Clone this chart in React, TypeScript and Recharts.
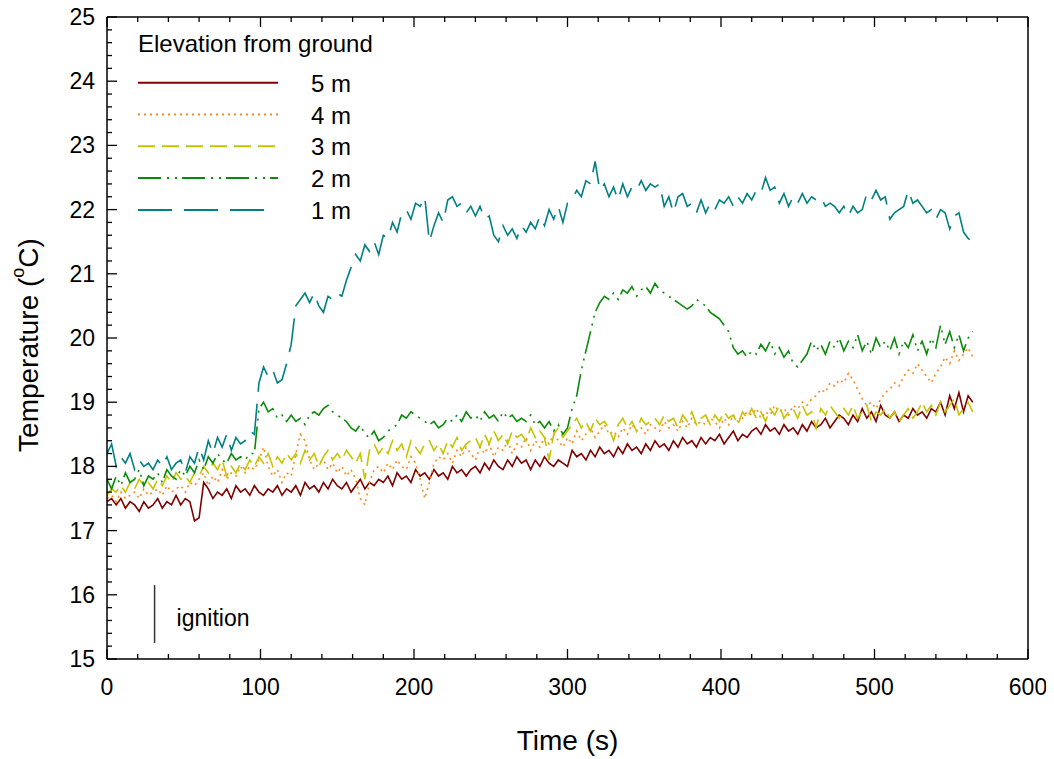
import { LineChart, Line, XAxis, YAxis, Legend, ReferenceLine } from 'recharts';

// sample clock: one reading every 3 s, 0 .. 564 s
const TIME = Array.from({ length: 189 }, (_, i) => i * 3);

const TEMP_5M = [
  17.45, 17.5, 17.4, 17.5, 17.35, 17.45, 17.4, 17.3, 17.45, 17.35,
  17.4, 17.5, 17.35, 17.45, 17.4, 17.55, 17.4, 17.5, 17.45, 17.15,
  17.2, 17.75, 17.65, 17.5, 17.6, 17.55, 17.65, 17.5, 17.7, 17.6,
  17.65, 17.55, 17.7, 17.6, 17.55, 17.65, 17.6, 17.7, 17.55, 17.65,
  17.6, 17.7, 17.55, 17.75, 17.65, 17.7, 17.6, 17.75, 17.65, 17.8,
  17.7, 17.65, 17.75, 17.6, 17.7, 17.8, 17.65, 17.75, 17.7, 17.8,
  17.75, 17.85, 17.7, 17.9, 17.8, 17.85, 17.75, 17.95, 17.85, 17.9,
  17.8, 17.95, 17.85, 17.9, 17.8, 18.0, 17.9, 17.95, 17.85, 17.95,
  18.0, 17.9, 18.05, 17.95, 18.1, 18.0, 17.95, 18.1, 18.0, 18.15,
  18.05, 18.1, 17.95, 18.1, 18.0, 18.15, 18.05, 18.0, 18.1, 18.05,
  18.0, 18.25, 18.15, 18.2, 18.1, 18.25, 18.15, 18.3, 18.2, 18.25,
  18.15, 18.3, 18.2, 18.35, 18.25, 18.3, 18.2, 18.35, 18.25, 18.4,
  18.3, 18.35, 18.25, 18.4, 18.3, 18.45, 18.35, 18.4, 18.3, 18.45,
  18.35, 18.45, 18.4, 18.5, 18.35, 18.45, 18.55, 18.4, 18.5, 18.45,
  18.55, 18.6, 18.5, 18.65, 18.55, 18.6, 18.5, 18.65, 18.55, 18.6,
  18.5, 18.65, 18.55, 18.7, 18.6, 18.65, 18.75, 18.6, 18.7, 18.8,
  18.75, 18.65, 18.8, 18.7, 18.9, 18.75, 18.85, 18.7, 18.95, 18.8,
  18.75, 18.85, 18.7, 18.8, 18.75, 18.9, 18.8, 18.85, 18.75, 18.9,
  18.85, 19.0, 18.8, 19.1, 18.9, 19.15, 18.85, 19.1, 19.0,
];

const TEMP_4M = [
  17.5, 17.55, 17.45, 17.6, 17.5, 17.55, 17.6, 17.5, 17.65, 17.55,
  17.6, 17.65, 17.55, 17.7, 17.6, 17.65, 17.7, 17.6, 17.75, 17.7,
  17.8, 17.9, 17.7, 17.85, 17.75, 17.95, 17.8, 17.9, 17.85, 18.0,
  17.9, 18.0, 17.95, 18.1, 18.3, 18.0, 17.85, 17.95, 17.75, 17.9,
  17.85, 18.2, 18.5, 18.4, 18.1, 17.95, 18.05, 18.1, 17.95, 18.05,
  17.9, 18.0, 17.85, 17.95, 17.8, 17.5, 17.4, 17.75, 17.95, 18.0,
  17.9, 18.05, 17.95, 18.1, 18.0, 17.95, 18.15, 18.05, 17.8, 17.5,
  17.75, 18.05, 18.15, 18.1, 18.2, 18.05, 18.25, 18.15, 18.3, 18.2,
  18.1, 18.3, 18.2, 18.35, 18.15, 18.3, 18.25, 18.4, 18.2, 18.35,
  18.3, 18.45, 18.25, 18.4, 18.3, 18.45, 18.35, 18.5, 18.4, 18.3,
  18.45, 18.35, 18.55, 18.4, 18.5, 18.6, 18.45, 18.55, 18.65, 18.5,
  18.55, 18.45, 18.6, 18.5, 18.65, 18.55, 18.6, 18.5, 18.65, 18.6,
  18.55, 18.7, 18.6, 18.65, 18.55, 18.7, 18.6, 18.75, 18.65, 18.7,
  18.65, 18.75, 18.7, 18.6, 18.75, 18.65, 18.8, 18.7, 18.75, 18.85,
  18.8, 18.9, 18.75, 18.85, 18.8, 18.95, 18.85, 18.9, 18.8, 18.95,
  18.9, 19.0, 18.95, 19.05, 19.1, 19.2, 19.15, 19.3, 19.25, 19.35,
  19.3, 19.45, 19.35, 19.2, 19.05, 18.95, 19.0, 18.9, 19.05, 19.15,
  19.2, 19.3, 19.25, 19.4, 19.5, 19.45, 19.6, 19.5, 19.4, 19.3,
  19.45, 19.55, 19.7, 19.6, 19.8, 19.65, 19.75, 19.85, 19.7,
];

const TEMP_3M = [
  17.55, 17.65, 17.6, 17.7, 17.6, 17.75, 17.65, 17.8, 17.7, 17.75,
  17.65, 17.8, 17.7, 17.85, 17.75, 17.9, 17.8, 17.85, 17.75, 17.9,
  17.85, 18.0, 17.9, 18.05, 17.95, 18.1, 17.85, 18.0, 17.9, 18.05,
  17.95, 18.1, 18.0, 18.15, 18.05, 18.2, 18.0, 18.15, 18.05, 18.2,
  18.1, 18.2, 18.05, 18.25, 18.1, 18.2, 18.0, 18.15, 18.25, 18.1,
  18.2, 18.1, 18.25, 18.15, 18.05, 18.2, 17.8, 18.25, 18.35, 18.2,
  18.3, 18.2, 18.4, 18.25, 18.35, 18.15, 18.4, 18.3, 18.2, 18.35,
  18.4, 18.25, 18.35, 18.2, 18.4, 18.3, 18.45, 18.25, 18.35, 18.4,
  18.45, 18.3, 18.5, 18.35, 18.55, 18.4, 18.5, 18.35, 18.55, 18.45,
  18.5, 18.4, 18.6, 18.45, 18.55, 18.45, 18.1, 18.5, 18.6, 18.45,
  18.55, 18.65, 18.75, 18.6, 18.7, 18.55, 18.75, 18.65, 18.7, 18.6,
  18.4, 18.65, 18.75, 18.6, 18.7, 18.55, 18.75, 18.65, 18.7, 18.75,
  18.65, 18.8, 18.7, 18.75, 18.6, 18.8, 18.7, 18.85, 18.65, 18.75,
  18.8, 18.65, 18.8, 18.7, 18.85, 18.75, 18.8, 18.65, 18.85, 18.75,
  18.9, 18.75, 18.85, 18.7, 18.9, 18.8, 18.95, 18.75, 18.85, 18.9,
  18.75, 18.95, 18.8, 18.85, 18.6, 18.9, 18.8, 18.95, 18.85, 18.75,
  18.9, 18.8, 18.95, 18.75, 18.85, 18.95, 18.7, 18.85, 18.8, 18.9,
  18.75, 18.85, 18.7, 18.8, 18.9, 18.75, 18.85, 19.0, 18.85, 18.95,
  18.8, 19.0, 18.85, 18.95, 19.05, 18.8, 18.9, 19.0, 18.85,
];

const TEMP_2M = [
  17.8, 17.65, 17.85, 17.7, 17.9, 17.75, 17.8, 17.95, 17.7, 17.85,
  17.8, 17.9, 17.75, 17.95, 17.85, 17.8, 17.95, 17.85, 18.0, 17.9,
  18.1, 17.95, 18.15, 18.05, 18.2, 18.1, 18.05, 18.2, 18.1, 18.15,
  18.1, 18.2, 18.2, 18.9, 19.0, 18.85, 18.9, 18.75, 18.8, 18.7,
  18.8, 18.7, 18.75, 18.65, 18.8, 18.85, 18.8, 18.9, 18.95, 18.85,
  18.8, 18.75, 18.7, 18.6, 18.55, 18.65, 18.5, 18.45, 18.55, 18.4,
  18.45, 18.55, 18.6, 18.65, 18.8, 18.75, 18.85, 18.8, 18.75, 18.7,
  18.65, 18.7, 18.6, 18.65, 18.75, 18.7, 18.8, 18.7, 18.85, 18.75,
  18.8, 18.7, 18.85, 18.75, 18.8, 18.7, 18.85, 18.75, 18.8, 18.7,
  18.75, 18.7, 18.8, 18.65, 18.7, 18.6, 18.7, 18.55, 18.65, 18.5,
  18.6, 18.9, 19.1, 19.5, 19.8, 20.1, 20.4, 20.55, 20.65, 20.6,
  20.7, 20.6, 20.75, 20.7, 20.8, 20.65, 20.75, 20.8, 20.7, 20.85,
  20.75, 20.7, 20.65, 20.6, 20.55, 20.5, 20.45, 20.5, 20.6, 20.55,
  20.5, 20.4, 20.35, 20.3, 20.2, 20.1, 19.85, 19.75, 19.8, 19.7,
  19.8, 19.75, 19.9, 19.8, 19.95, 19.75, 19.85, 19.7, 19.8, 19.6,
  19.55, 19.65, 19.75, 19.95, 19.8, 19.9, 19.75, 19.95, 19.85, 20.0,
  19.8, 19.95, 19.85, 20.05, 19.8, 19.95, 19.75, 20.0, 19.85, 19.95,
  19.8, 20.0, 19.75, 19.95, 19.85, 20.05, 19.8, 19.95, 19.75, 20.0,
  19.85, 20.2, 19.9, 20.1, 19.85, 20.05, 19.8, 20.0, 20.1,
];

const TEMP_1M = [
  18.2, 18.35, 18.0, 18.15, 18.05, 18.2, 17.95, 18.1, 18.0, 18.05,
  17.95, 18.1, 18.0, 18.15, 17.95, 18.05, 18.1, 17.9, 18.15, 18.05,
  18.3, 18.1, 18.4, 18.2, 18.45, 18.3, 18.5, 18.25, 18.45, 18.35,
  18.4, 18.55, 18.5, 19.3, 19.55, 19.4, 19.5, 19.3, 19.35, 19.6,
  19.9, 20.5, 20.6, 20.7, 20.55, 20.7, 20.5, 20.4, 20.65, 20.6,
  20.7, 20.65, 20.9, 21.1, 21.3, 21.2, 21.45, 21.35, 21.5, 21.3,
  21.6, 21.55, 21.8, 21.65, 21.95, 22.0, 21.85, 22.1, 22.05, 22.2,
  21.5, 21.75, 21.95, 21.8, 22.15, 22.2, 22.05, 22.1, 21.95, 22.05,
  21.9, 22.05, 21.85, 21.9, 21.6, 21.5, 21.75, 21.6, 21.7, 21.55,
  21.75, 21.65, 21.8, 21.7, 21.9, 21.75, 22.0, 21.85, 22.05, 21.8,
  22.1, 22.15, 22.3, 22.2, 22.45, 22.4, 22.75, 22.3, 22.4, 22.2,
  22.35, 22.15, 22.4, 22.2, 22.35, 22.3, 22.45, 22.3, 22.4, 22.35,
  22.4, 22.05, 22.2, 21.95, 22.2, 22.25, 22.05, 22.1, 21.95, 22.15,
  21.95, 22.1, 22.0, 22.15, 22.1, 22.2, 22.05, 22.2, 22.1, 22.25,
  22.15, 22.3, 22.25, 22.5, 22.3, 22.35, 22.1, 22.25, 22.05, 22.2,
  22.1, 22.25, 22.1, 22.2, 22.15, 22.2, 22.05, 22.1, 22.05, 21.95,
  22.05, 21.9, 22.05, 21.95, 22.0, 22.25, 22.15, 22.3, 22.15, 22.2,
  21.85, 21.95, 22.0, 22.05, 22.3, 22.1, 22.15, 22.05, 21.95, 22.0,
  21.85, 22.0, 21.95, 21.7, 21.9, 21.95, 21.65, 21.55, 21.5,
];

const X_LABELS = [0, 100, 200, 300, 400, 500, 600];
const Y_LABELS = [15, 16, 17, 18, 19, 20, 21, 22, 23, 24, 25];
const X_TICKS = Array.from({ length: 31 }, (_, i) => i * 20);
const Y_TICKS = Array.from({ length: 51 }, (_, i) => Math.round((15 + i * 0.2) * 10) / 10);

const IGNITION_T = 31;

const SERIES = [
  { key: 'm5', name: '5 m', values: TEMP_5M, color: '#800000', dash: undefined, keyLen: 140 },
  { key: 'm4', name: '4 m', values: TEMP_4M, color: '#ff8a1c', dash: '2 4', keyLen: 140 },
  { key: 'm3', name: '3 m', values: TEMP_3M, color: '#c4c400', dash: '17 7', keyLen: 137 },
  { key: 'm2', name: '2 m', values: TEMP_2M, color: '#0a8a0a', dash: '23 6 2 6 2 5', keyLen: 140 },
  { key: 'm1', name: '1 m', values: TEMP_1M, color: '#008080', dash: '34 12', keyLen: 126 },
];

const data = TIME.map((t, i) => {
  const row: Record<string, number> = { t };
  SERIES.forEach(s => { row[s.key] = s.values[i]; });
  return row;
});

const FONT = '"Liberation Sans", Arial, Helvetica, sans-serif';
const TICK_MARGIN = 10;

const BottomTick = ({ x, y, payload }: any) => {
  const axisY = y - TICK_MARGIN;
  const major = X_LABELS.includes(payload.value);
  return (
    <g>
      <line x1={x} x2={x} y1={axisY} y2={axisY - (major ? 10 : 5)} stroke="#000" strokeWidth={1.3} />
      {major && (
        <text x={x} y={axisY + 36} textAnchor="middle" fontSize={23} fontFamily={FONT} fill="#000">
          {payload.value}
        </text>
      )}
    </g>
  );
};

const TopTick = ({ x, y, payload }: any) => {
  const major = X_LABELS.includes(payload.value);
  return <line x1={x} x2={x} y1={y} y2={y + (major ? 10 : 5)} stroke="#000" strokeWidth={1.3} />;
};

const LeftTick = ({ x, y, payload }: any) => {
  const axisX = x + TICK_MARGIN;
  const major = Y_LABELS.includes(payload.value);
  return (
    <g>
      <line x1={axisX} x2={axisX + (major ? 10 : 5)} y1={y} y2={y} stroke="#000" strokeWidth={1.3} />
      {major && (
        <text x={axisX - 12} y={y + 8} textAnchor="end" fontSize={23} fontFamily={FONT} fill="#000">
          {payload.value}
        </text>
      )}
    </g>
  );
};

const RightTick = ({ x, y, payload }: any) => {
  const major = Y_LABELS.includes(payload.value);
  return <line x1={x} x2={x - (major ? 10 : 5)} y1={y} y2={y} stroke="#000" strokeWidth={1.3} />;
};

const YTitle = ({ viewBox }: any) => {
  const cx = 20;
  const cy = viewBox.y + viewBox.height / 2 + 7;
  return (
    <text x={cx} y={cy} transform={`rotate(-90, ${cx}, ${cy})`} textAnchor="middle"
      dominantBaseline="central" fontSize={28} fontFamily={FONT} fill="#000">
      <tspan>Temperature (</tspan>
      <tspan dy={-10} fontSize={18}>o</tspan>
      <tspan dy={10}>C)</tspan>
    </text>
  );
};

const XTitle = ({ viewBox }: any) => (
  <text x={viewBox.x + viewBox.width / 2} y={viewBox.y + 91} textAnchor="middle"
    fontSize={28} fontFamily={FONT} fill="#000">
    Time (s)
  </text>
);

const IgnitionLabel = ({ viewBox }: any) => (
  <text x={viewBox.x + 22} y={viewBox.y + viewBox.height / 2 + 12} fontSize={23}
    fontFamily={FONT} fill="#000">
    ignition
  </text>
);

function ElevationLegend() {
  return (
    <svg width={300} height={200} style={{ display: 'block' }}>
      <text x={0} y={26} fontSize={24} fontFamily={FONT} fill="#000">Elevation from ground</text>
      {SERIES.map((s, i) => {
        const cy = 56.7 + i * 31.8;
        return (
          <g key={s.key}>
            <line x1={0} x2={s.keyLen} y1={cy} y2={cy} stroke={s.color} strokeWidth={2} strokeDasharray={s.dash} />
            <text x={173} y={cy + 9} fontSize={24} fontFamily={FONT} fill="#000">{s.name}</text>
          </g>
        );
      })}
    </svg>
  );
}

export default function App() {
  const axisLine = { stroke: '#000', strokeWidth: 1.5 };
  return (
    <LineChart width={1040} height={757} data={data} style={{ marginTop: -8 }}
      margin={{ top: 16, right: 19, bottom: 18, left: 0 }}>
      <XAxis dataKey="t" type="number" domain={[0, 600]} ticks={X_TICKS} interval={0}
        height={80} tickSize={0} tickMargin={TICK_MARGIN} tickLine={false}
        axisLine={axisLine} tick={BottomTick} label={XTitle} />
      <XAxis xAxisId="top" orientation="top" dataKey="t" type="number" domain={[0, 600]}
        ticks={X_TICKS} interval={0} height={1} tickSize={0} tickMargin={0} tickLine={false}
        axisLine={axisLine} tick={TopTick} />
      <YAxis type="number" domain={[15, 25]} ticks={Y_TICKS} interval={0} width={99}
        tickSize={0} tickMargin={TICK_MARGIN} tickLine={false} axisLine={axisLine}
        tick={LeftTick} label={YTitle} />
      <YAxis yAxisId="right" orientation="right" type="number" domain={[15, 25]} ticks={Y_TICKS}
        interval={0} width={1} tickSize={0} tickMargin={0} tickLine={false} axisLine={axisLine}
        tick={RightTick} />
      <Legend layout="vertical" align="center" verticalAlign="middle"
        wrapperStyle={{ left: 130, top: 26, width: 300, height: 200 }}
        content={() => <ElevationLegend />} />
      <ReferenceLine
        segment={[{ x: IGNITION_T, y: 15.25 }, { x: IGNITION_T, y: 16.15 }]}
        stroke="#333" strokeWidth={1.5} label={IgnitionLabel}
      />
      {SERIES.map(s => (
        <Line key={s.key} type="linear" dataKey={s.key} name={s.name} stroke={s.color}
          strokeWidth={1.6} strokeDasharray={s.dash} dot={false} isAnimationActive={false} />
      ))}
    </LineChart>
  );
}
